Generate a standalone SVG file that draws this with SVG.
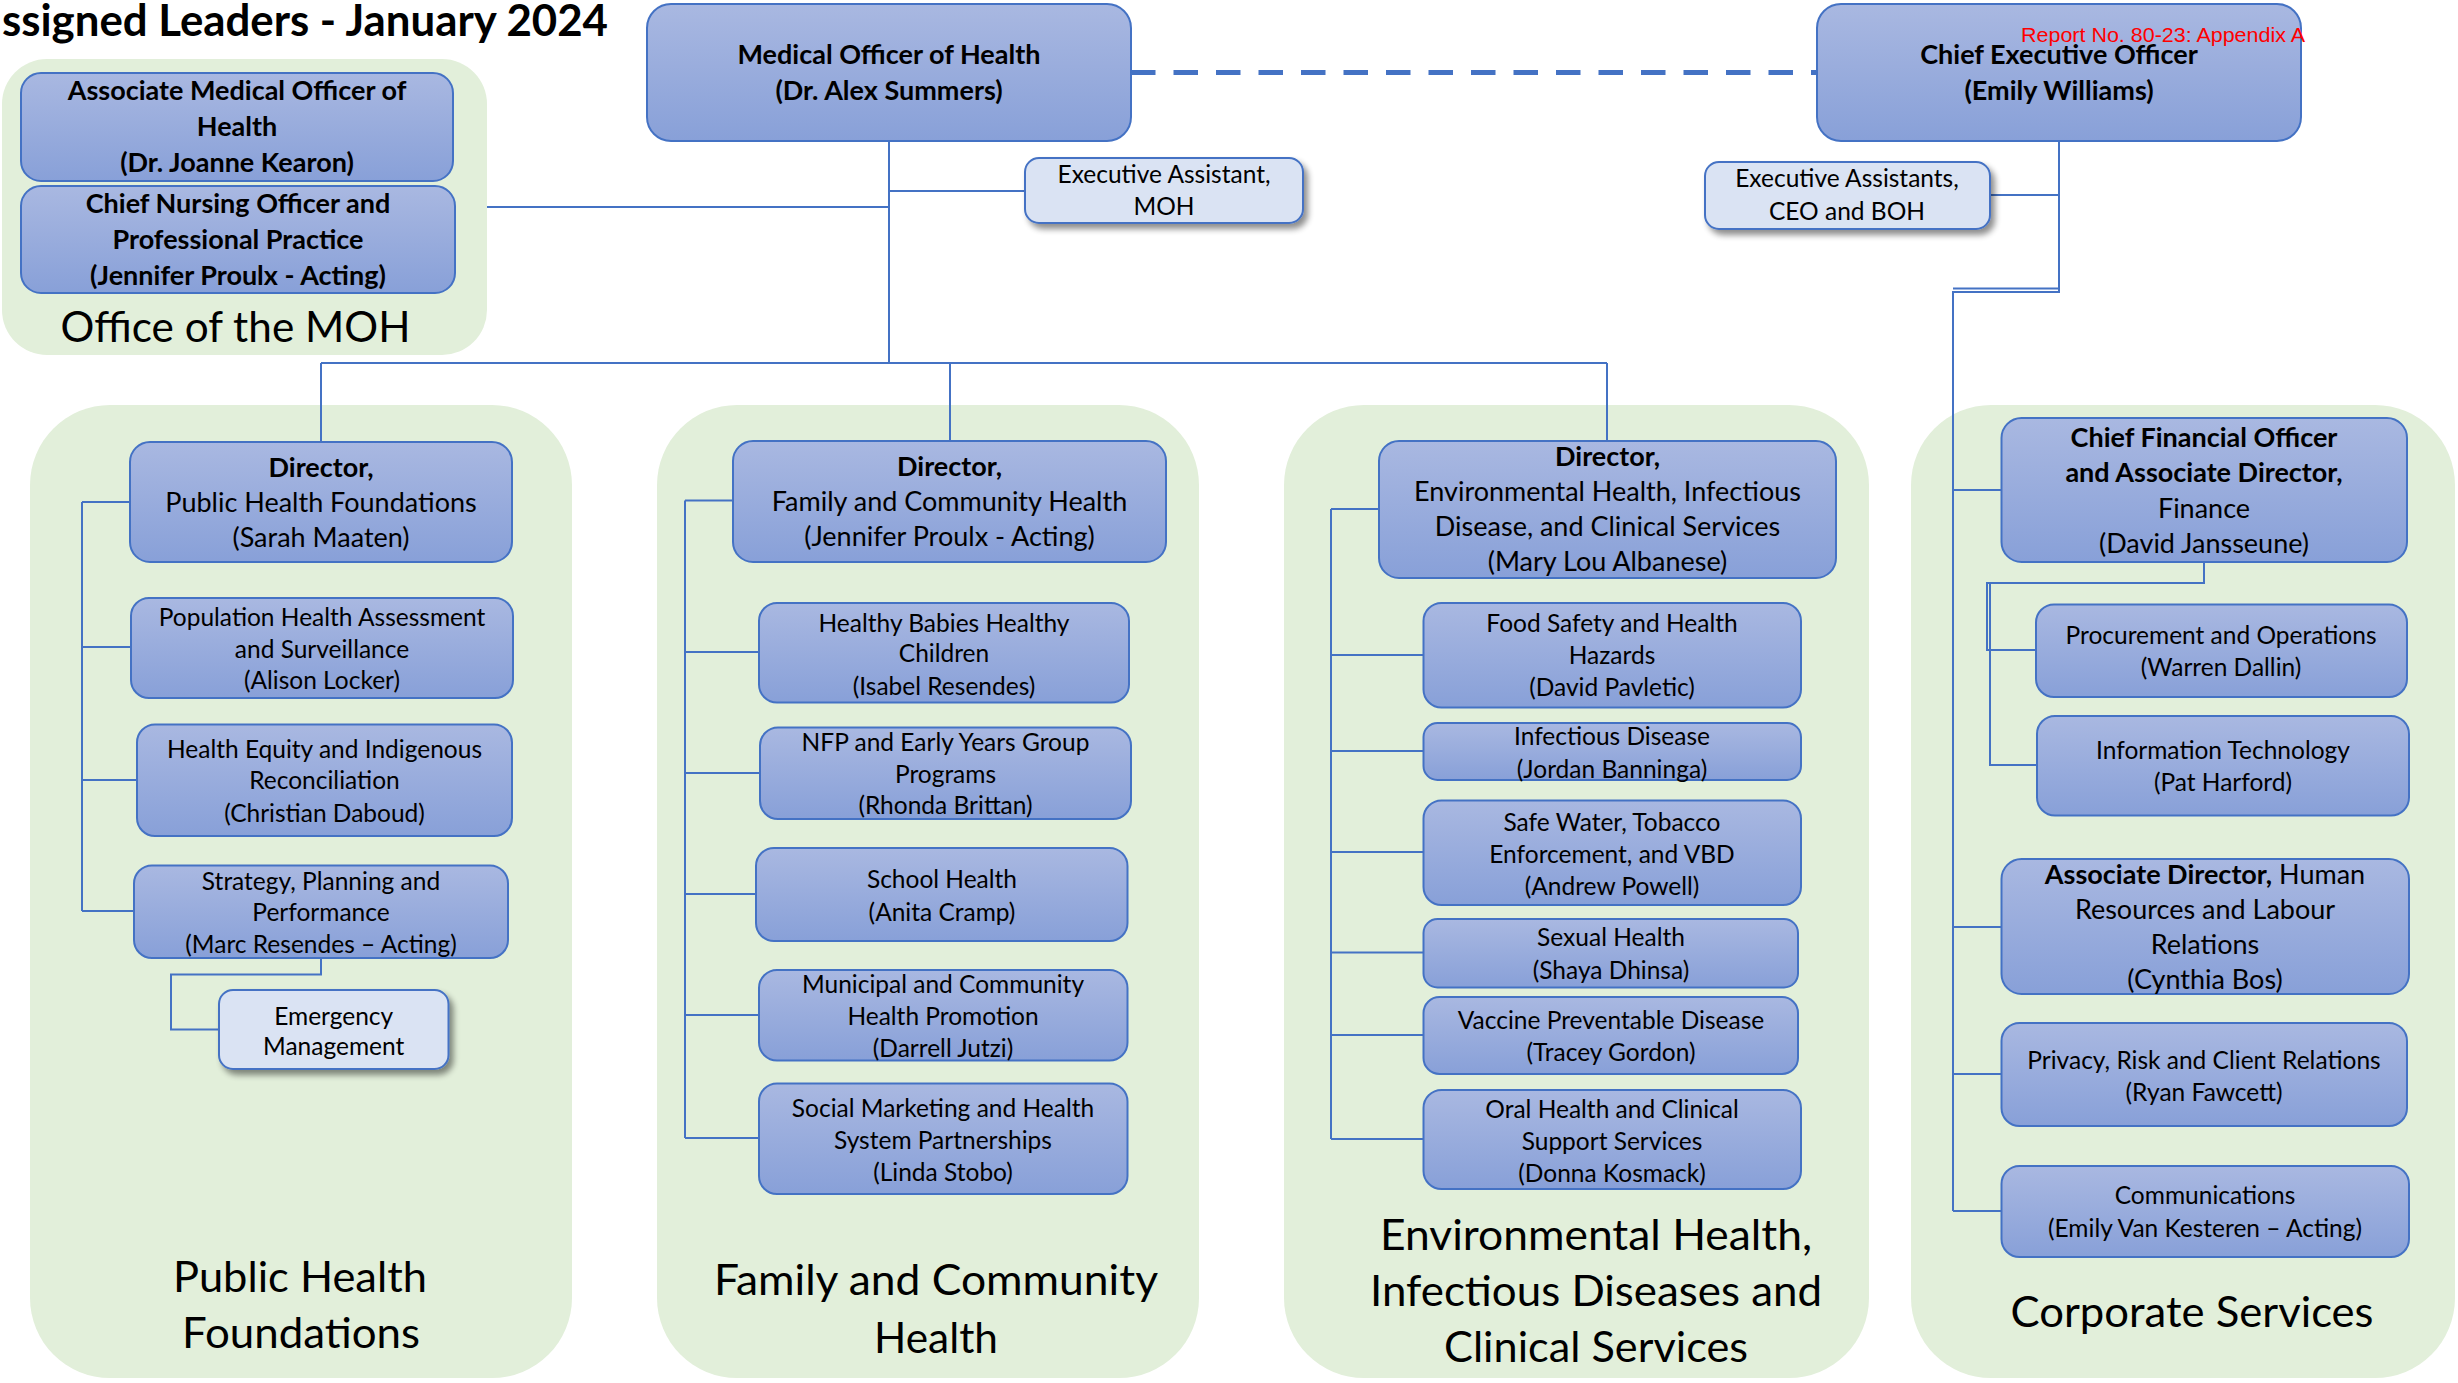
<svg xmlns="http://www.w3.org/2000/svg" width="2458" height="1383" viewBox="0 0 2458 1383">
<defs>
<linearGradient id="g" x1="0" y1="0" x2="0" y2="1">
<stop offset="0" stop-color="#A9B8E1"/>
<stop offset="1" stop-color="#88A0D8"/>
</linearGradient>
<filter id="sh" x="-10%" y="-10%" width="130%" height="140%">
<feGaussianBlur in="SourceAlpha" stdDeviation="3"/>
<feOffset dx="4" dy="5" result="o"/>
<feComponentTransfer><feFuncA type="linear" slope="0.45"/></feComponentTransfer>
<feMerge><feMergeNode/><feMergeNode in="SourceGraphic"/></feMerge>
</filter>
<style>
.grp{fill:#E2EFDA}
.box{fill:url(#g);stroke:#4472C4;stroke-width:2}
.lbox{fill:#DAE3F3;stroke:#4472C4;stroke-width:2;filter:url(#sh)}
.conn{stroke:#4472C4;stroke-width:2;fill:none}
.dash{stroke:#4472C4;stroke-width:5;fill:none;stroke-dasharray:24.5 18}
text{font-family:Lato,"Liberation Sans",sans-serif;fill:#000}
.t{font-size:24.5px;text-anchor:middle}
.L{font-size:27px}
.b{font-weight:bold}
.lbl{font-size:43px;text-anchor:middle}
.red{font-family:"Liberation Sans",Arial,sans-serif;font-size:21px;fill:#FF0000}
</style>
</defs>
<rect width="2458" height="1383" fill="#FFFFFF"/>

<text x="2" y="36" font-size="43" font-weight="bold" textLength="606" lengthAdjust="spacingAndGlyphs">ssigned Leaders - January 2024</text>

<g id="groups">
<rect id="grp-office" class="grp" x="2" y="59" width="485" height="296" rx="45"/>
<rect id="grp-phf" class="grp" x="30" y="405" width="542" height="973" rx="80"/>
<rect id="grp-fch" class="grp" x="657" y="405" width="542" height="973" rx="80"/>
<rect id="grp-eh" class="grp" x="1284" y="405" width="585" height="973" rx="80"/>
<rect id="grp-cs" class="grp" x="1911" y="405" width="544" height="973" rx="80"/>
<text class="lbl" x="235.5" y="342" textLength="350" lengthAdjust="spacingAndGlyphs">Office of the MOH</text>
<text class="lbl" x="300" y="1292" textLength="254" lengthAdjust="spacingAndGlyphs">Public Health</text>
<text class="lbl" x="301" y="1348" textLength="238" lengthAdjust="spacingAndGlyphs">Foundations</text>
<text class="lbl" x="936" y="1295" textLength="444" lengthAdjust="spacingAndGlyphs">Family and Community</text>
<text class="lbl" x="936" y="1353" textLength="124" lengthAdjust="spacingAndGlyphs">Health</text>
<text class="lbl" x="1596" y="1250" textLength="432" lengthAdjust="spacingAndGlyphs">Environmental Health,</text>
<text class="lbl" x="1596" y="1306" textLength="452" lengthAdjust="spacingAndGlyphs">Infectious Diseases and</text>
<text class="lbl" x="1596" y="1362" textLength="304" lengthAdjust="spacingAndGlyphs">Clinical Services</text>
<text class="lbl" x="2192" y="1327" textLength="363" lengthAdjust="spacingAndGlyphs">Corporate Services</text>
</g>

<g id="connectors">
<path class="dash" d="M1131,72.5 H1817"/>
<path class="conn" d="M889,141 V363"/>
<path class="conn" d="M889,191 H1025"/>
<path class="conn" d="M889,207 H487"/>
<path class="conn" d="M321,363 H1607"/>
<path class="conn" d="M321,363 V442 M950,363 V441 M1607,363 V441"/>
<path class="conn" d="M2059,141 V292 H1953 V1211"/>
<path class="conn" d="M2059,288.5 H1953" stroke-width="1.5"/>
<path class="conn" d="M2059,195 H1990"/>
<path class="conn" d="M1953,490 H2002 M1953,927 H2002 M1953,1074 H2002 M1953,1211 H2002"/>
<path class="conn" d="M2204,562 V583 H1987 V650 H2036"/>
<path class="conn" d="M1990,583 V765 H2037"/>
<path class="conn" d="M82,502 V911 M82,502 H130 M82,647 H131 M82,780 H137 M82,911 H134"/>
<path class="conn" d="M321,958 V974.5 H171 V1029.5 H219"/>
<path class="conn" d="M685,500.5 V1138 M685,500.5 H733 M685,652 H759 M685,773 H760 M685,894 H756 M685,1015 H759 M685,1138 H759"/>
<path class="conn" d="M1331,509 V1139 M1331,509 H1379 M1331,655 H1423 M1331,751 H1423 M1331,852 H1423 M1331,952.5 H1423 M1331,1035 H1423 M1331,1139 H1423"/>
</g>

<g id="moh">
<rect class="box" x="647" y="4" width="484" height="137" rx="24"/>
<text class="t L b" x="889" y="64">Medical Officer of Health</text>
<text class="t L b" x="889" y="100">(Dr. Alex Summers)</text>
</g>
<g id="ceo">
<rect class="box" x="1817" y="4" width="484" height="137" rx="24"/>
<text class="t L b" x="2059" y="64">Chief Executive Officer</text>
<text class="t L b" x="2059" y="100">(Emily Williams)</text>
</g>
<text class="red" x="2021" y="42" textLength="284" lengthAdjust="spacingAndGlyphs">Report No. 80-23: Appendix A</text>

<g id="ea-moh">
<rect class="lbox" x="1025" y="158" width="278" height="65" rx="14"/>
<text class="t" x="1164" y="183">Executive Assistant,</text>
<text class="t" x="1164" y="215">MOH</text>
</g>
<g id="ea-ceo">
<rect class="lbox" x="1705" y="162" width="285" height="67" rx="14"/>
<text class="t" x="1847" y="187">Executive Assistants,</text>
<text class="t" x="1847" y="220">CEO and BOH</text>
</g>

<g id="amoh">
<rect class="box" x="21" y="73" width="432" height="108" rx="20"/>
<text class="t L b" x="237" y="100">Associate Medical Officer of</text>
<text class="t L b" x="237" y="136">Health</text>
<text class="t L b" x="237" y="172">(Dr. Joanne Kearon)</text>
</g>
<g id="cno">
<rect class="box" x="21" y="186" width="434" height="107" rx="20"/>
<text class="t L b" x="238" y="213">Chief Nursing Officer and</text>
<text class="t L b" x="238" y="249">Professional Practice</text>
<text class="t L b" x="238" y="285">(Jennifer Proulx - Acting)</text>
</g>

<g id="dir-phf">
<rect class="box" x="130" y="442" width="382" height="120" rx="20"/>
<text class="t L b" x="321" y="476.5">Director,</text>
<text class="t L" x="321" y="511.5">Public Health Foundations</text>
<text class="t L" x="321" y="546.5">(Sarah Maaten)</text>
</g>
<g id="pop">
<rect class="box" x="131" y="598" width="382" height="100" rx="18"/>
<text class="t" x="322" y="625.5">Population Health Assessment</text>
<text class="t" x="322" y="657.5">and Surveillance</text>
<text class="t" x="322" y="688.5">(Alison Locker)</text>
</g>
<g id="equity">
<rect class="box" x="137" y="724.5" width="375" height="111.5" rx="18"/>
<text class="t" x="324.5" y="757.5">Health Equity and Indigenous</text>
<text class="t" x="324.5" y="789">Reconciliation</text>
<text class="t" x="324.5" y="821.5">(Christian Daboud)</text>
</g>
<g id="strategy">
<rect class="box" x="134" y="865.5" width="374" height="92.5" rx="18"/>
<text class="t" x="321" y="889.5">Strategy, Planning and</text>
<text class="t" x="321" y="921">Performance</text>
<text class="t" x="321" y="953">(Marc Resendes – Acting)</text>
</g>
<g id="emergency">
<rect class="lbox" x="219" y="990" width="229.5" height="79" rx="14"/>
<text class="t" x="333.7" y="1024.5">Emergency</text>
<text class="t" x="333.7" y="1054.5">Management</text>
</g>

<g id="dir-fch">
<rect class="box" x="733" y="441" width="433" height="121" rx="20"/>
<text class="t L b" x="949.5" y="475.5">Director,</text>
<text class="t L" x="949.5" y="510.5">Family and Community Health</text>
<text class="t L" x="949.5" y="545.5">(Jennifer Proulx - Acting)</text>
</g>
<g id="hbhc">
<rect class="box" x="759" y="603" width="370" height="99.5" rx="18"/>
<text class="t" x="944" y="631.5">Healthy Babies Healthy</text>
<text class="t" x="944" y="662">Children</text>
<text class="t" x="944" y="694.5">(Isabel Resendes)</text>
</g>
<g id="nfp">
<rect class="box" x="760" y="727.5" width="371" height="91.5" rx="18"/>
<text class="t" x="945.5" y="750.5">NFP and Early Years Group</text>
<text class="t" x="945.5" y="782.5">Programs</text>
<text class="t" x="945.5" y="814">(Rhonda Brittan)</text>
</g>
<g id="school">
<rect class="box" x="756" y="848" width="371.5" height="93" rx="18"/>
<text class="t" x="942" y="888">School Health</text>
<text class="t" x="942" y="920.5">(Anita Cramp)</text>
</g>
<g id="municipal">
<rect class="box" x="759" y="970" width="368.5" height="90.5" rx="18"/>
<text class="t" x="943" y="992.5">Municipal and Community</text>
<text class="t" x="943" y="1024.5">Health Promotion</text>
<text class="t" x="943" y="1056.5">(Darrell Jutzi)</text>
</g>
<g id="social">
<rect class="box" x="759" y="1083.5" width="368.5" height="110.5" rx="18"/>
<text class="t" x="943" y="1116.5">Social Marketing and Health</text>
<text class="t" x="943" y="1148.5">System Partnerships</text>
<text class="t" x="943" y="1180.5">(Linda Stobo)</text>
</g>

<g id="dir-eh">
<rect class="box" x="1379" y="441" width="457" height="137" rx="20"/>
<text class="t L b" x="1607.5" y="466">Director,</text>
<text class="t L" x="1607.5" y="501">Environmental Health, Infectious</text>
<text class="t L" x="1607.5" y="536">Disease, and Clinical Services</text>
<text class="t L" x="1607.5" y="571">(Mary Lou Albanese)</text>
</g>
<g id="food">
<rect class="box" x="1423.5" y="603" width="377.5" height="104.5" rx="18"/>
<text class="t" x="1612" y="631.5">Food Safety and Health</text>
<text class="t" x="1612" y="663.5">Hazards</text>
<text class="t" x="1612" y="696">(David Pavletic)</text>
</g>
<g id="infectious">
<rect class="box" x="1423.5" y="723" width="377.5" height="57" rx="14"/>
<text class="t" x="1612" y="744.5">Infectious Disease</text>
<text class="t" x="1612" y="777.5">(Jordan Banninga)</text>
</g>
<g id="water">
<rect class="box" x="1423.5" y="800.5" width="377.5" height="104.5" rx="18"/>
<text class="t" x="1612" y="830.5">Safe Water, Tobacco</text>
<text class="t" x="1612" y="862.5">Enforcement, and VBD</text>
<text class="t" x="1612" y="894.5">(Andrew Powell)</text>
</g>
<g id="sexual">
<rect class="box" x="1423.5" y="919" width="374.5" height="68.5" rx="14"/>
<text class="t" x="1611" y="946">Sexual Health</text>
<text class="t" x="1611" y="978.5">(Shaya Dhinsa)</text>
</g>
<g id="vaccine">
<rect class="box" x="1423.5" y="997" width="374.5" height="77" rx="16"/>
<text class="t" x="1611" y="1028.5">Vaccine Preventable Disease</text>
<text class="t" x="1611" y="1061">(Tracey Gordon)</text>
</g>
<g id="oral">
<rect class="box" x="1423.5" y="1090" width="377.5" height="99" rx="18"/>
<text class="t" x="1612" y="1117.5">Oral Health and Clinical</text>
<text class="t" x="1612" y="1149.5">Support Services</text>
<text class="t" x="1612" y="1181.5">(Donna Kosmack)</text>
</g>

<g id="cfo">
<rect class="box" x="2001.5" y="418" width="405.5" height="144" rx="20"/>
<text class="t L b" x="2204" y="446.5">Chief Financial Officer</text>
<text class="t L b" x="2204" y="482">and Associate Director,</text>
<text class="t L" x="2204" y="518">Finance</text>
<text class="t L" x="2204" y="553">(David Jansseune)</text>
</g>
<g id="procurement">
<rect class="box" x="2036" y="604.5" width="371" height="92.5" rx="18"/>
<text class="t" x="2221" y="643.5">Procurement and Operations</text>
<text class="t" x="2221" y="676">(Warren Dallin)</text>
</g>
<g id="it">
<rect class="box" x="2037" y="716" width="372" height="99.5" rx="18"/>
<text class="t" x="2223" y="759">Information Technology</text>
<text class="t" x="2223" y="791">(Pat Harford)</text>
</g>
<g id="hr">
<rect class="box" x="2001.5" y="859" width="407.5" height="135" rx="20"/>
<text class="t L" x="2205" y="883.5"><tspan class="b">Associate Director,</tspan> Human</text>
<text class="t L" x="2205" y="919">Resources and Labour</text>
<text class="t L" x="2205" y="954">Relations</text>
<text class="t L" x="2205" y="989">(Cynthia Bos)</text>
</g>
<g id="privacy">
<rect class="box" x="2001.5" y="1023" width="405.5" height="103" rx="18"/>
<text class="t" x="2204" y="1068.5">Privacy, Risk and Client Relations</text>
<text class="t" x="2204" y="1100.5">(Ryan Fawcett)</text>
</g>
<g id="comms">
<rect class="box" x="2001.5" y="1166" width="407.5" height="91" rx="18"/>
<text class="t" x="2205" y="1204">Communications</text>
<text class="t" x="2205" y="1236.5">(Emily Van Kesteren – Acting)</text>
</g>
</svg>
